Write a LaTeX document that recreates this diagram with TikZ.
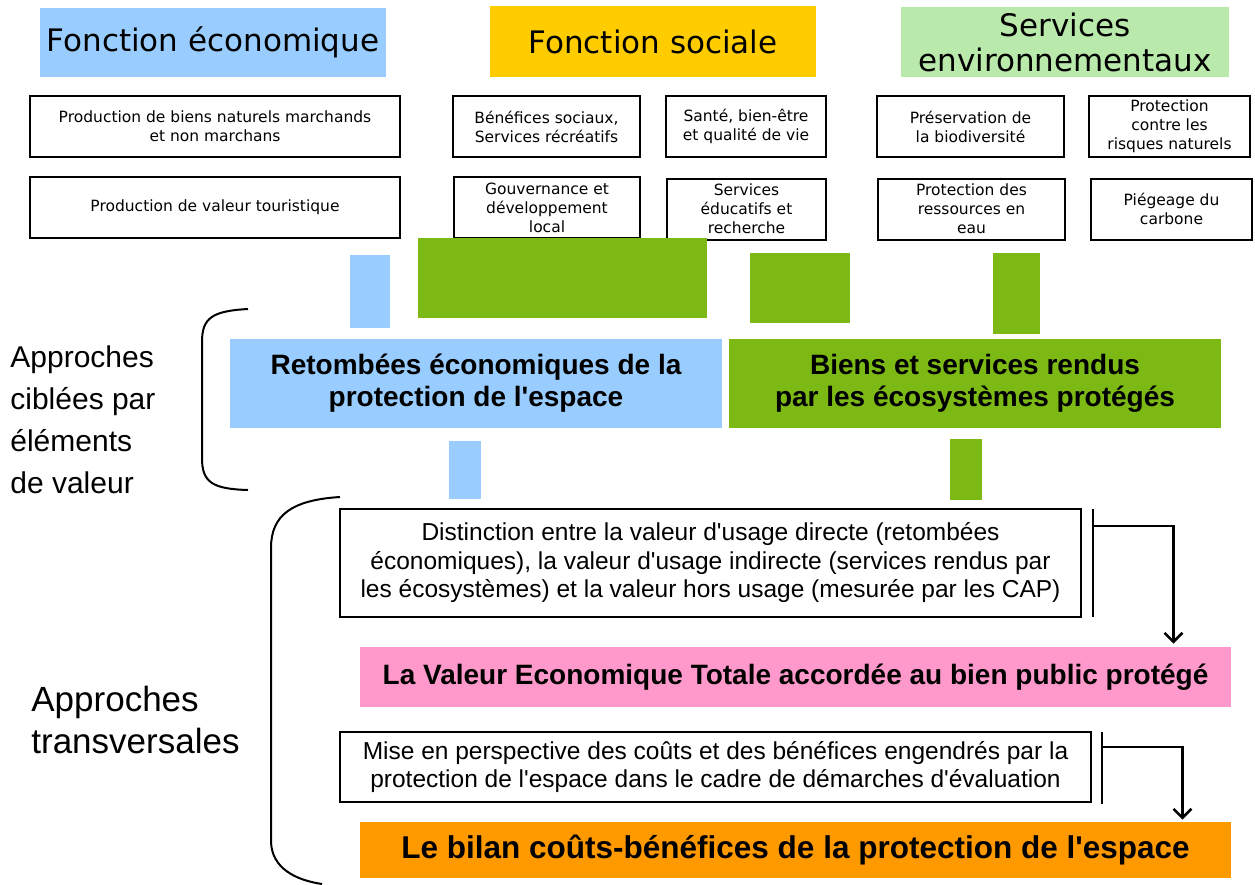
\documentclass[tikz,border=0pt]{standalone}
\usepackage{fontspec}
\setmainfont{Liberation Sans}[Ligatures=TeXOff]
\newfontfamily\tahoma{DejaVu Sans}[Ligatures=TeXOff]
\usetikzlibrary{arrows.meta}
\definecolor{ciel}{HTML}{99CCFF}
\definecolor{soleil}{HTML}{FFCC00}
\definecolor{prairie}{HTML}{BAEAAB}
\definecolor{herbe}{HTML}{7DB914}
\definecolor{rose}{HTML}{FF99CC}
\definecolor{orange}{HTML}{FF9900}
\begin{document}
\begin{tikzpicture}[x=1pt, y=-1pt, thick]
\tikzstyle{titre}=[inner sep=0pt, align=center, font=\tahoma\fontsize{31}{35}\selectfont]
\tikzstyle{service}=[draw, line width=2pt, inner sep=1pt, minimum height=61, align=center, font=\tahoma\fontsize{15.5}{19}\selectfont]
\tikzstyle{pilier}=[inner sep=0pt, minimum width=492, minimum height=89, align=center, font=\fontsize{28}{32}\selectfont\bfseries]
\tikzstyle{methode}=[draw, line width=1.8pt, inner sep=0pt, align=center, font=\fontsize{24.5}{28.5}\selectfont]
\tikzstyle{resultat}=[inner sep=0pt, minimum width=871, align=center, font=\bfseries]
\tikzstyle{approche}=[inner sep=0pt, anchor=west, align=left]
\tikzstyle{fleche}=[line width=2.5pt, -{Straight Barb[length=9pt,width=18pt,line width=2.5pt]}]
\useasboundingbox (0,0) rectangle (1255,884);
  % les trois fonctions
  \node[titre, fill=ciel, minimum width=346, minimum height=69] (eco) at (213,42.5) {Fonction économique};
  \node[titre, fill=soleil, minimum width=326, minimum height=71] (soc) at (653,41.5) {Fonction sociale};
  \node[titre, fill=prairie, minimum width=328, minimum height=70] (env) at (1065,42) {Services\\environnementaux};
  % les elements de valeur
  \foreach \place/\name/\w/\txt in {{(215,126.5)/biens/370/{Production de biens naturels marchands\\et non marchans}},
                                   {(546.5,126.5)/recre/187/{Bénéfices sociaux,\\Services récréatifs}},
                                   {(746,126.5)/sante/160/{Santé, bien-être\\et qualité de vie}},
                                   {(970.5,126.5)/biodiv/187/{Préservation de\\la biodiversité}},
                                   {(1169.5,126.5)/risques/161/{Protection\\contre les\\risques naturels}},
                                   {(215,207.5)/touri/370/{Production de valeur touristique}},
                                   {(547,207.5)/gouv/186/{Gouvernance et\\développement\\local}},
                                   {(746.5,209)/educ/159/{Services\\éducatifs et\\recherche}},
                                   {(971.5,209)/eau/187/{Protection des\\ressources en\\eau}},
                                   {(1171.5,209)/carbone/161/{Piégeage du\\carbone}}}
    \node[service, minimum width=\w] (\name) at \place {\txt};
  % les liaisons colorees
  \foreach \couleur/\xa/\ya/\xb/\yb in {ciel/350/255/390/328,
                                       herbe/418/238/707/318,
                                       herbe/750/253/850/323,
                                       herbe/993/253/1040/334,
                                       ciel/449/441/481/499,
                                       herbe/950/439/982/500}
    \fill[\couleur] (\xa,\ya) rectangle (\xb,\yb);
  % approches ciblees
  \node[pilier, fill=ciel] (retombees) at (476,383.5) {Retombées économiques de la\\protection de l'espace};
  \node[pilier, fill=herbe] (ecosys) at (975,383.5) {Biens et services rendus\\par les écosystèmes protégés};
  % approches transversales
  \node[methode, minimum width=741, minimum height=108] (dist) at (710.5,563) {Distinction entre la valeur d'usage directe (retombées\\économiques), la valeur d'usage indirecte (services rendus par\\les écosystèmes) et la valeur hors usage (mesurée par les CAP)};
  \node[resultat, fill=rose, minimum height=60, font=\fontsize{28}{32}\selectfont\bfseries] (vet) at (795.5,677) {La Valeur Economique Totale accordée au bien public protégé};
  \node[methode, minimum width=751, minimum height=70] (mise) at (715.5,767) {Mise en perspective des coûts et des bénéfices engendrés par la\\protection de l'espace dans le cadre de démarches d'évaluation};
  \node[resultat, fill=orange, minimum height=56, font=\fontsize{31.5}{36}\selectfont\bfseries] (bilan) at (795.5,850) {Le bilan coûts-bénéfices de la protection de l'espace};
  % renvois
  \draw[line width=2pt] ([xshift=11pt,yshift=-1pt]dist.north east) -- ([xshift=11pt,yshift=1pt]dist.south east);
  \draw[fleche] ([xshift=11pt,yshift=-18pt]dist.north east) -| ([xshift=-58pt,yshift=3pt]vet.north east);
  \draw[line width=2pt] ([xshift=10pt,yshift=-1pt]mise.north east) -- ([xshift=10pt,yshift=-1pt]mise.south east);
  \draw[fleche] ([xshift=10pt,yshift=-16pt]mise.north east) -| ([xshift=-49pt,yshift=2pt]bilan.north east);
  % accolades
  \draw[line width=2pt] (248,309) .. controls (212,311) and (202,318) .. (202,342) -- (202,458) .. controls (202,482) and (212,489) .. (248,490);
  \draw[line width=2pt] (340,497) .. controls (292,500) and (271,515) .. (271,548) -- (271,842) .. controls (272,868) and (295,880) .. (322,884);
  \node[approche, font=\fontsize{30}{42}\selectfont] (ciblees) at (10,420) {Approches\\ciblées par\\éléments\\de valeur};
  \node[approche, font=\fontsize{35}{42}\selectfont] (transv) at (31,720) {Approches\\transversales};
\end{tikzpicture}
\end{document}
